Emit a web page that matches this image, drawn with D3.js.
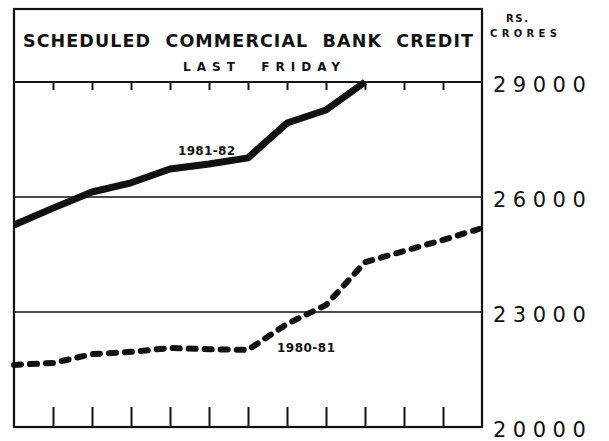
<!DOCTYPE html>
<html>
<head>
<meta charset="utf-8">
<script src="https://cdn.jsdelivr.net/npm/d3@7"></script>
<style>
  body { margin: 0; background: #fff; }
  svg text { font-family: "DejaVu Sans", sans-serif; fill: #111; }
</style>
</head>
<body>
<div class="d3"></div>
<script>
// last-Friday readings, 13 weeks (no labels on the original)
var weeks = [0, 1, 2, 3, 4, 5, 6, 7, 8, 9, 10, 11, 12];
var credit8182 = [25270, 25710, 26130, 26370, 26730, 26860, 27020, 27930, 28270, 29000];
var credit8081 = [21620, 21670, 21900, 21960, 22060, 22030, 22010, 22690, 23180, 24300, 24590, 24880, 25190];
var yTicks = [20000, 23000, 26000, 29000];
var gridValues = [23000, 26000];

var w = 609, h = 441;
var padL = 14, padR = 482, padTop = 9, boxBottom = 82, padBottom = 427;

var svg = d3.select(".d3").append("svg")
	.attr("width", w)
	.attr("height", h);

var x = d3.scaleLinear().domain([0, 12]).range([padL, padR]);
var y = d3.scaleLinear().domain([20000, 29000]).range([padBottom, boxBottom]);

// gridlines
svg.selectAll(".grid")
	.data(gridValues)
	.enter().append("line")
	.attr("x1", padL).attr("x2", padR)
	.attr("y1", d => y(d)).attr("y2", d => y(d))
	.attr("stroke", "#111")
	.attr("stroke-width", 1.6);

// title box bottom (29000) and frame
svg.append("line")
	.attr("x1", padL).attr("x2", padR)
	.attr("y1", y(29000)).attr("y2", y(29000))
	.attr("stroke", "#111").attr("stroke-width", 2.2);
svg.append("rect")
	.attr("x", padL).attr("y", padTop)
	.attr("width", padR - padL).attr("height", padBottom - padTop)
	.attr("fill", "none").attr("stroke", "#111").attr("stroke-width", 2.2);

// week ticks top and bottom
var inner = weeks.slice(1, -1);
var topAxis = d3.axisTop(x).tickValues(inner).tickSize(-8).tickFormat("");
var botAxis = d3.axisBottom(x).tickValues(inner).tickSize(-20).tickFormat("");
svg.append("g").attr("transform", "translate(0," + boxBottom + ")").call(topAxis);
svg.append("g").attr("transform", "translate(0," + padBottom + ")").call(botAxis);
svg.selectAll(".domain").remove();
svg.selectAll(".tick line").attr("stroke", "#111").attr("stroke-width", 2);

// right value axis
var yAxis = d3.axisRight(y).tickValues(yTicks).tickSize(0).tickPadding(11)
	.tickFormat(d3.format("d"));
var ya = svg.append("g").attr("transform", "translate(" + padR + ",0)").call(yAxis);
ya.select(".domain").remove();
ya.selectAll("text")
	.attr("font-size", 21)
	.attr("dy", "0.45em")
	.attr("letter-spacing", 6.5)
	.style("font-family", "DejaVu Sans, sans-serif");

// lines
var line = d3.line().x((d, i) => x(weeks[i])).y(d => y(d));

svg.append("path")
	.datum(credit8182)
	.attr("d", line)
	.attr("fill", "none")
	.attr("stroke", "#111")
	.attr("stroke-width", 7)
	.attr("stroke-linejoin", "round");

svg.append("path")
	.datum(credit8081)
	.attr("d", line)
	.attr("fill", "none")
	.attr("stroke", "#111")
	.attr("stroke-width", 6)
	.attr("stroke-linecap", "round")
	.attr("stroke-dasharray", "7,9");

// texts
function label(t, xx, yy, size, len) {
	var el = svg.append("text")
		.attr("x", xx).attr("y", yy)
		.attr("font-size", size)
		.attr("font-weight", "bold")
		.text(t);
	if (len) el.attr("textLength", len).attr("lengthAdjust", "spacing");
	return el;
}
label("SCHEDULED  COMMERCIAL  BANK  CREDIT", 23, 47, 17.5, 450).attr("xml:space", "preserve");
label("LAST  FRIDAY", 183, 71, 12, 157).attr("xml:space", "preserve");
label("RS.", 506, 22, 10, 22);
label("CRORES", 490, 37, 10, 67);
label("1981-82", 178, 155, 12, 57);
label("1980-81", 277, 352, 12, 58);
</script>
</body>
</html>
